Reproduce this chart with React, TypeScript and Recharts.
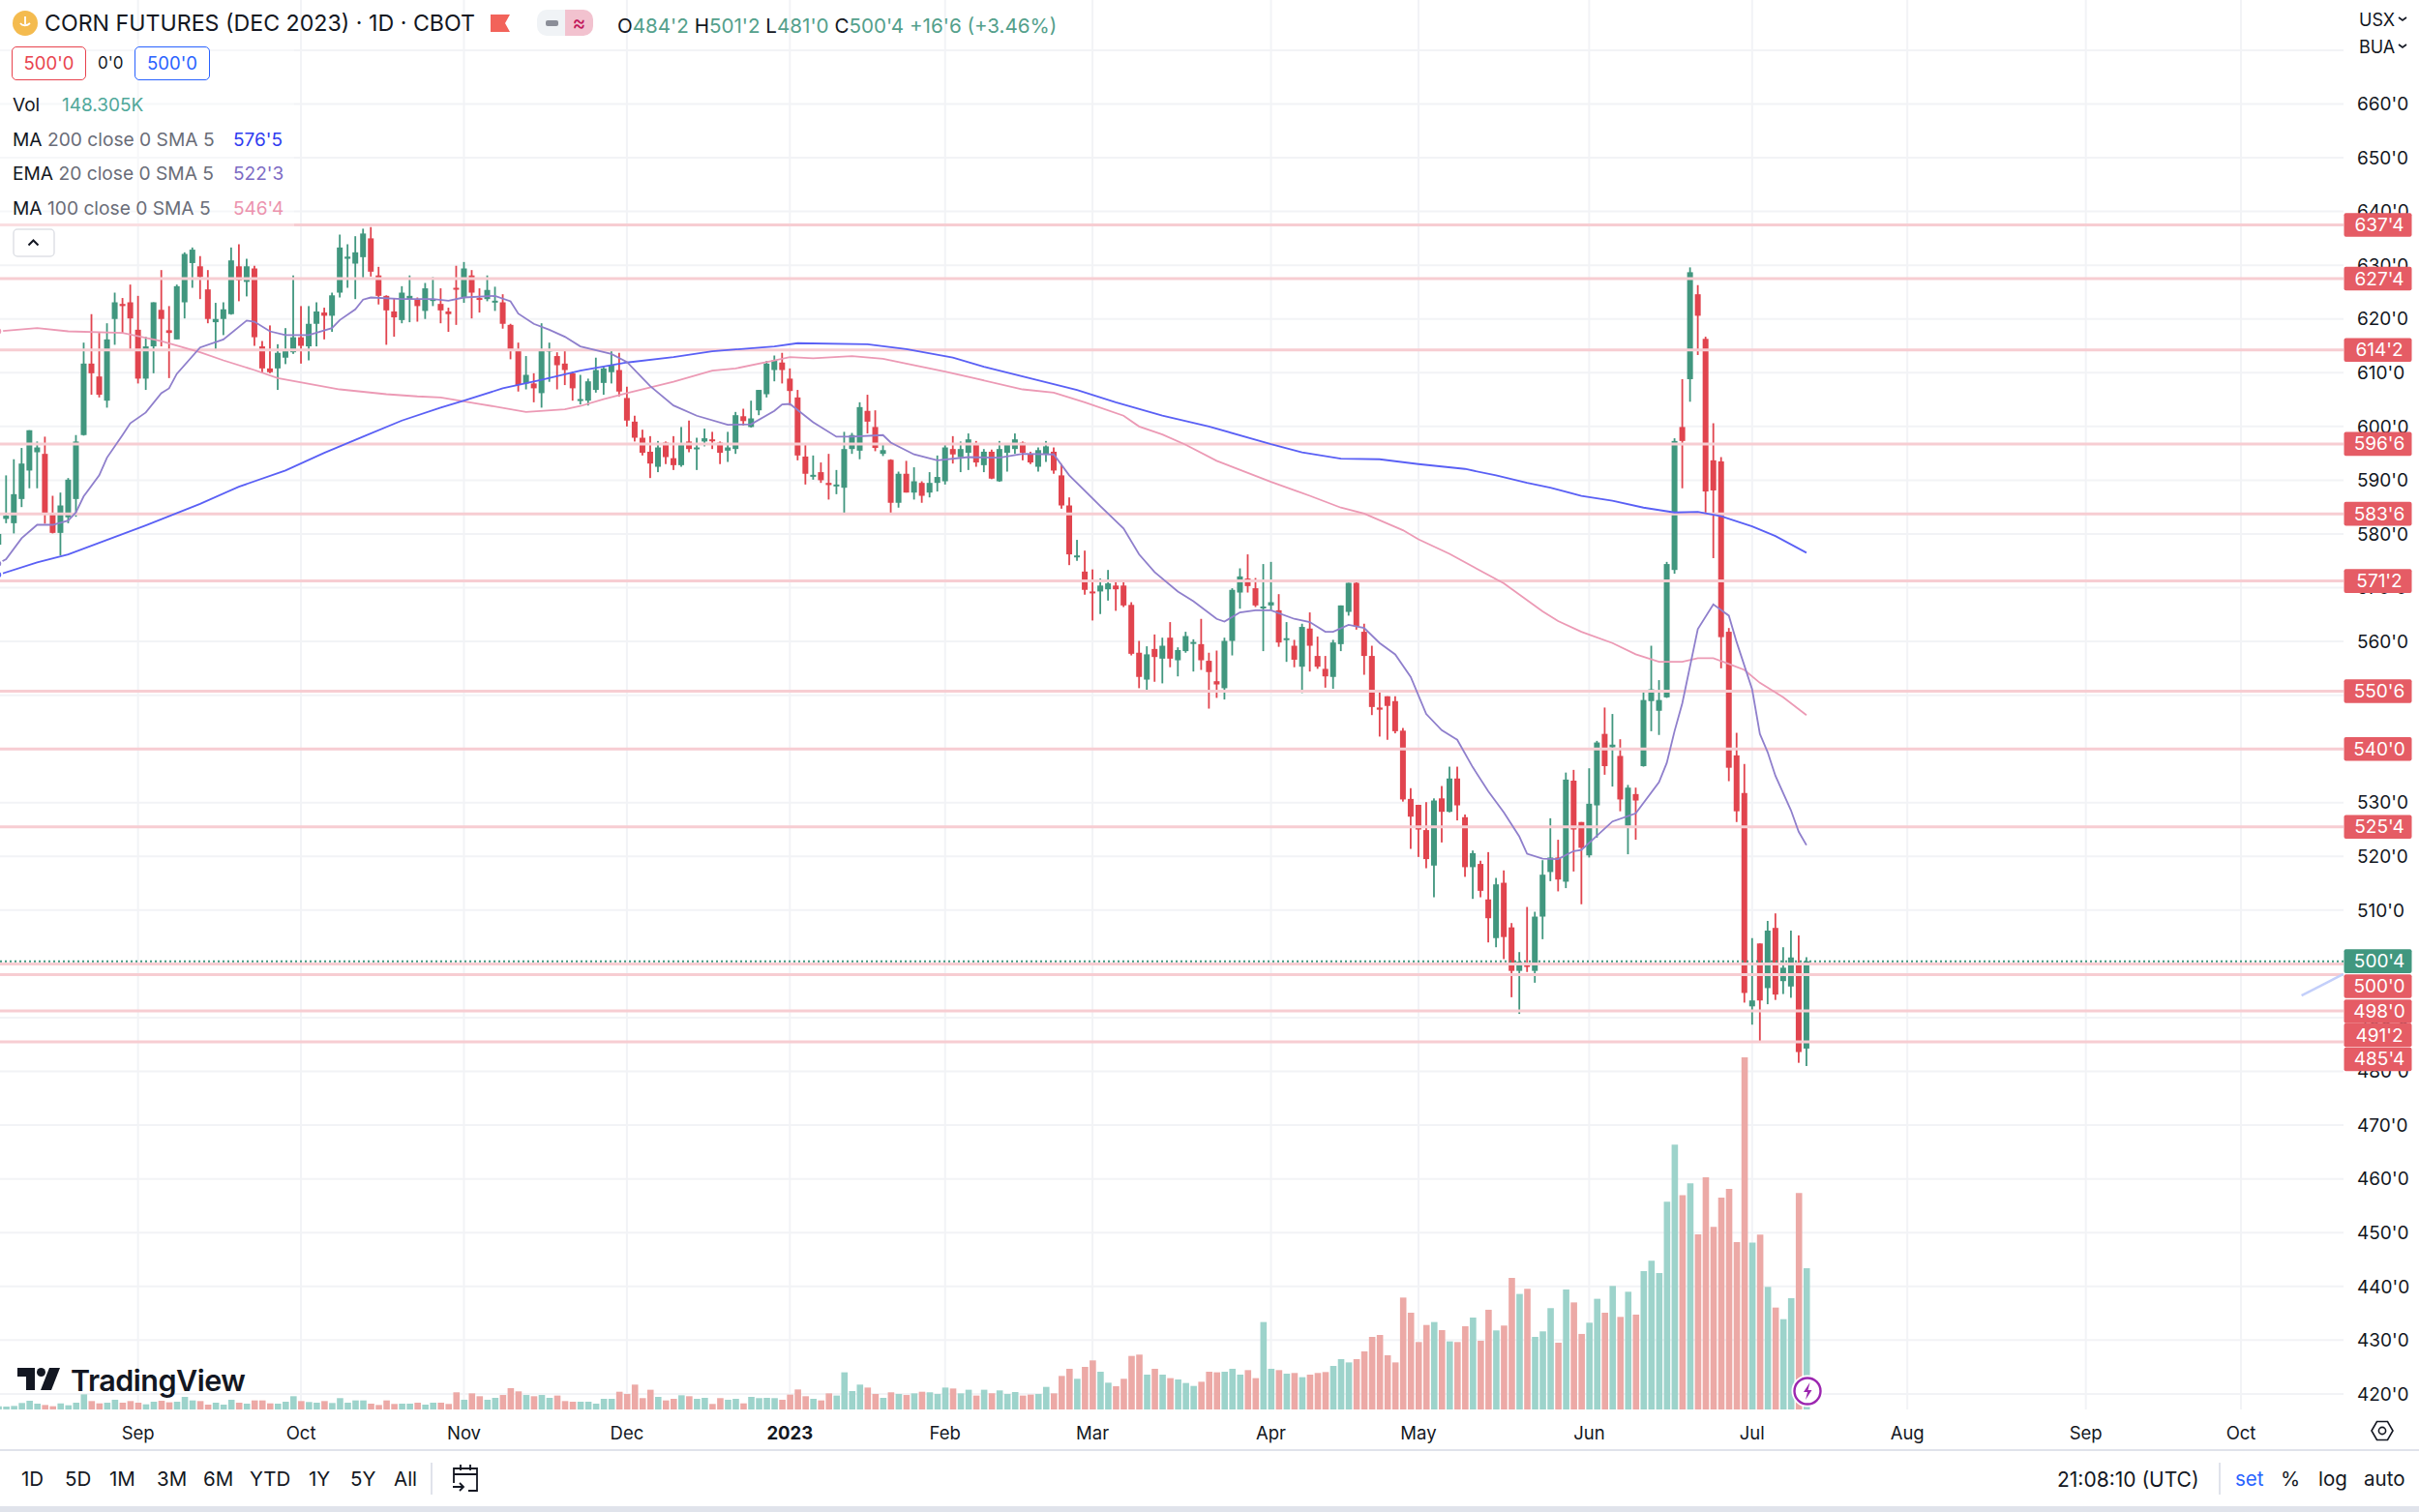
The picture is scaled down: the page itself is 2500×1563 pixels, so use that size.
import {
  ComposedChart,
  Bar,
  Line,
  Cell,
  XAxis,
  YAxis,
  CartesianGrid,
  ReferenceLine,
} from "recharts";

// daily candles, the first one sits half off the left edge
const firstIndex = -1;

const opens = [
  578.0,
  582.8, 582.0, 586.5, 591.8, 595.2, 594.9, 583.7, 580.2, 583.1, 586.5,
  598.4, 611.7, 609.3, 604.8, 620.0, 622.8, 623.1, 618.0, 608.9, 614.9,
  621.7, 617.9, 616.2, 623.1, 630.4, 629.8, 625.5, 619.4, 620.0, 620.9,
  629.8, 626.9, 629.4, 614.9, 610.8, 610.8, 612.8, 613.8, 616.6, 614.9,
  619.1, 621.2, 620.6, 624.9, 631.2, 630.3, 631.5, 635.0, 628.1, 624.3,
  621.4, 619.8, 623.6, 623.7, 621.5, 623.4, 622.8, 621.4, 625.8, 624.0,
  628.1, 623.9, 623.7, 623.1, 623.1, 618.9, 614.1, 608.0, 608.0, 606.2,
  614.1, 613.1, 611.7, 609.9, 604.9, 604.8, 606.8, 608.1, 610.1, 610.5,
  605.3, 600.9, 597.9, 595.3, 592.5, 597.0, 594.1, 592.8, 597.2, 595.8,
  597.2, 597.6, 597.0, 595.5, 595.8, 601.9, 599.9, 603.0, 606.0, 610.5,
  611.9, 608.9, 605.4, 594.4, 590.7, 591.5, 589.5, 588.9, 588.6, 595.8,
  595.5, 602.9, 599.9, 594.9, 593.8, 585.8, 591.2, 587.7, 589.5, 587.7,
  589.5, 589.8, 595.8, 594.3, 595.1, 596.7, 592.8, 595.3, 589.8, 595.1,
  595.8, 597.0, 594.9, 592.5, 594.9, 595.3, 590.9, 585.3, 575.7, 573.0,
  569.3, 569.3, 569.7, 570.4, 570.4, 566.8, 557.9, 552.9, 558.6, 556.8,
  560.7, 556.5, 558.2, 559.7, 559.5, 556.4, 552.6, 551.3, 560.1, 569.1,
  571.7, 569.9, 566.3, 566.7, 565.8, 560.4, 559.2, 555.3, 562.4, 557.3,
  554.9, 553.4, 559.5, 565.5, 570.9, 561.8, 557.3, 547.7, 549.8, 548.9,
  543.4, 530.7, 529.6, 524.9, 518.3, 530.8, 528.3, 534.5, 527.3, 518.0,
  518.6, 512.0, 504.8, 515.1, 506.8, 498.7, 499.8, 498.7, 508.8, 517.1,
  519.8, 515.3, 534.1, 526.4, 520.2, 529.5, 542.8, 540.3, 538.7, 525.7,
  531.6, 536.8, 548.9, 547.1, 549.6, 573.3, 599.9, 608.8, 624.6, 616.3,
  593.7, 593.5, 561.8, 538.8, 531.8, 492.1, 503.8, 495.5, 506.7, 496.8,
  495.8, 500.3, 484.25,
];

const highs = [
  580.6,
  590.9, 593.9, 596.0, 599.3, 597.2, 598.1, 587.1, 587.7, 590.4, 598.4,
  615.6, 620.9, 617.4, 619.2, 624.9, 623.9, 626.4, 624.3, 616.7, 623.1,
  629.1, 622.4, 626.4, 632.4, 633.3, 631.7, 629.1, 623.0, 623.1, 633.3,
  633.9, 631.2, 629.9, 615.9, 618.8, 615.3, 618.3, 628.1, 622.4, 622.4,
  623.1, 622.1, 624.9, 635.7, 633.9, 635.4, 636.8, 637.1, 629.7, 624.4,
  623.9, 626.1, 628.1, 624.0, 626.7, 627.8, 625.7, 622.1, 629.9, 630.6,
  629.1, 625.7, 628.1, 626.0, 624.6, 619.1, 615.6, 613.1, 609.9, 619.2,
  615.6, 613.8, 614.1, 610.2, 609.6, 608.9, 612.8, 611.1, 614.1, 613.7,
  607.4, 602.0, 599.4, 598.2, 597.3, 597.2, 598.2, 599.9, 601.1, 597.9,
  599.6, 599.0, 597.2, 599.0, 602.7, 603.3, 604.8, 606.8, 612.2, 613.2,
  613.7, 610.8, 606.8, 596.9, 594.6, 593.3, 594.9, 591.9, 599.0, 598.8,
  604.5, 605.9, 603.0, 596.9, 593.9, 591.6, 593.6, 592.4, 589.8, 591.5,
  594.6, 596.7, 598.2, 597.2, 598.7, 597.3, 595.8, 595.7, 597.3, 596.7,
  598.7, 597.2, 595.3, 596.1, 597.3, 596.1, 593.0, 586.8, 578.9, 576.9,
  573.4, 571.7, 573.3, 571.1, 571.1, 567.3, 560.1, 559.1, 561.3, 560.7,
  563.6, 558.9, 561.8, 560.4, 564.2, 557.9, 558.3, 560.7, 569.9, 573.6,
  576.2, 571.8, 574.4, 574.8, 568.8, 563.6, 560.3, 563.3, 565.4, 560.9,
  557.3, 560.3, 566.7, 570.9, 571.1, 563.3, 559.2, 550.8, 549.8, 549.8,
  543.9, 532.7, 529.6, 530.1, 530.8, 533.1, 536.7, 536.7, 527.8, 521.1,
  519.2, 520.8, 516.0, 517.4, 507.6, 502.2, 510.6, 509.7, 519.3, 527.1,
  523.1, 535.6, 536.1, 526.4, 536.4, 541.5, 547.7, 546.5, 541.8, 533.3,
  532.8, 550.6, 559.2, 552.8, 574.8, 597.8, 608.8, 629.6, 626.3, 616.7,
  600.6, 594.3, 562.5, 543.0, 537.2, 504.8, 503.8, 508.0, 509.4, 503.1,
  506.2, 505.3, 501.25,
];

const lows = [
  577.3,
  582.0, 580.1, 585.0, 588.5, 588.5, 581.9, 580.1, 576.0, 582.0, 583.2,
  598.3, 605.9, 605.4, 603.5, 615.2, 617.4, 614.4, 608.0, 606.8, 609.9,
  614.9, 609.0, 616.2, 620.1, 625.8, 623.7, 619.2, 614.0, 617.0, 620.8,
  623.3, 624.2, 615.0, 609.9, 609.9, 606.8, 611.6, 613.5, 611.7, 612.3,
  614.9, 616.2, 617.6, 624.0, 625.8, 623.7, 627.6, 627.9, 622.7, 615.2,
  616.7, 619.2, 619.4, 619.5, 620.0, 622.4, 619.2, 617.6, 618.9, 623.0,
  620.1, 621.2, 623.3, 621.5, 618.2, 612.5, 606.5, 606.9, 604.5, 603.5,
  608.3, 606.9, 607.7, 604.8, 604.1, 603.9, 606.3, 605.9, 608.0, 605.6,
  600.0, 597.2, 594.6, 590.4, 591.5, 593.0, 591.9, 592.5, 595.2, 591.9,
  596.3, 595.8, 593.0, 593.4, 594.9, 600.2, 599.8, 602.1, 605.4, 608.4,
  608.0, 603.9, 593.7, 589.2, 590.1, 589.5, 586.4, 587.4, 583.7, 594.9,
  593.9, 598.7, 595.4, 594.5, 583.7, 584.9, 587.7, 586.4, 585.8, 586.8,
  587.9, 589.2, 593.1, 591.5, 591.9, 592.5, 591.5, 590.2, 589.7, 591.6,
  594.9, 593.7, 593.0, 591.6, 593.4, 591.2, 584.7, 574.2, 575.0, 568.7,
  563.9, 565.1, 567.6, 565.7, 566.4, 557.4, 551.3, 550.7, 552.5, 552.2,
  555.2, 553.5, 557.9, 554.4, 554.7, 547.5, 549.5, 549.2, 557.4, 566.1,
  569.1, 566.4, 558.2, 565.8, 559.0, 556.2, 555.2, 550.4, 554.4, 554.9,
  551.4, 551.2, 558.2, 564.8, 562.2, 553.8, 546.3, 542.3, 541.7, 542.9,
  530.2, 521.4, 519.9, 517.8, 512.4, 522.6, 528.2, 526.7, 516.2, 512.1,
  512.4, 504.0, 503.1, 500.9, 493.8, 490.7, 498.5, 496.5, 504.6, 515.4,
  513.5, 514.1, 517.2, 511.1, 519.8, 523.5, 535.2, 533.0, 528.4, 520.4,
  523.1, 536.7, 543.3, 542.6, 549.5, 572.6, 588.5, 604.6, 613.3, 583.6,
  575.5, 555.0, 534.0, 526.4, 492.8, 488.7, 485.4, 492.5, 493.3, 494.4,
  493.7, 481.6, 481.0,
];

const closes = [
  580.0,
  583.4, 587.4, 593.1, 599.3, 596.1, 583.7, 580.2, 585.3, 590.1, 597.2,
  611.7, 609.9, 605.9, 616.2, 623.1, 622.4, 620.1, 608.9, 614.9, 623.1,
  620.0, 617.4, 626.1, 632.1, 632.9, 627.8, 620.0, 620.0, 621.8, 630.9,
  627.2, 629.8, 616.6, 610.8, 610.1, 613.7, 614.0, 616.6, 615.0, 619.1,
  621.4, 620.6, 624.4, 633.3, 631.6, 632.4, 635.9, 628.8, 624.3, 621.6,
  620.3, 624.9, 624.3, 622.4, 625.7, 623.7, 621.6, 620.9, 625.6, 629.4,
  624.9, 623.7, 625.4, 623.4, 619.1, 614.1, 607.7, 609.6, 607.1, 614.1,
  614.3, 611.4, 610.5, 607.1, 605.1, 608.4, 610.5, 610.8, 611.4, 606.5,
  601.1, 597.9, 595.1, 593.1, 596.1, 594.3, 592.8, 596.9, 595.8, 596.1,
  597.8, 597.3, 595.1, 596.1, 602.1, 601.0, 601.5, 606.8, 611.7, 612.3,
  610.5, 606.6, 594.6, 591.2, 591.0, 590.0, 589.1, 589.2, 595.8, 598.4,
  603.6, 600.9, 596.0, 595.6, 585.8, 591.2, 587.7, 589.8, 587.1, 589.5,
  590.6, 596.1, 594.8, 595.8, 597.6, 593.3, 595.3, 590.3, 595.8, 596.7,
  597.6, 595.1, 593.3, 595.6, 596.3, 591.8, 585.3, 576.2, 576.0, 569.6,
  569.1, 570.4, 570.8, 569.7, 566.7, 557.7, 553.4, 557.6, 557.1, 559.2,
  556.8, 558.4, 561.0, 559.9, 556.5, 554.3, 552.0, 560.1, 569.6, 572.1,
  570.3, 566.7, 566.5, 567.3, 559.8, 560.6, 556.6, 562.7, 559.2, 555.3,
  553.5, 559.8, 566.7, 570.9, 562.8, 557.3, 547.8, 547.3, 548.0, 543.3,
  530.6, 527.4, 525.0, 519.5, 530.4, 528.3, 534.5, 529.5, 518.0, 520.6,
  513.6, 508.5, 514.8, 505.0, 498.7, 500.4, 499.6, 508.8, 516.6, 519.8,
  515.7, 534.3, 525.0, 521.6, 529.8, 541.2, 536.8, 540.8, 530.6, 532.8,
  530.4, 549.1, 551.1, 549.1, 574.4, 597.3, 597.3, 628.7, 620.6, 587.9,
  588.1, 560.8, 536.5, 528.4, 494.6, 493.2, 493.2, 506.2, 494.3, 499.3,
  501.2, 483.6, 500.5,
];

// thousands of contracts
const volumes = [
  3.4,
  3.0, 3.7, 6.8, 9.1, 6.1, 4.7, 3.4, 6.4, 4.4, 7.1,
  15.9, 8.8, 6.4, 7.1, 10.2, 7.1, 8.8, 7.1, 5.4, 8.1,
  9.1, 7.5, 8.1, 13.2, 9.5, 8.8, 5.1, 7.1, 5.1, 10.2,
  7.1, 6.1, 9.5, 9.5, 6.4, 6.1, 8.1, 13.9, 8.8, 7.8,
  7.1, 8.8, 6.8, 11.9, 7.1, 9.5, 9.5, 6.1, 4.7, 9.5,
  5.8, 6.1, 6.1, 7.1, 5.1, 7.1, 7.1, 5.8, 18.0, 10.2,
  16.9, 13.9, 10.2, 12.2, 15.2, 22.4, 19.0, 15.2, 13.9, 15.2,
  12.2, 14.6, 8.8, 8.1, 8.1, 8.1, 6.1, 11.2, 11.2, 18.6,
  16.3, 26.1, 11.9, 20.7, 13.2, 9.5, 11.2, 14.9, 13.9, 11.2,
  12.2, 5.8, 11.9, 10.2, 11.2, 6.4, 13.2, 11.9, 12.2, 11.9,
  10.2, 15.6, 21.0, 13.9, 11.2, 9.5, 16.9, 14.6, 39.0, 19.3,
  26.1, 23.0, 16.3, 12.2, 18.0, 16.3, 15.2, 16.9, 18.6, 18.0,
  16.3, 23.0, 22.0, 16.9, 20.7, 14.6, 20.7, 16.9, 20.0, 16.3,
  18.3, 14.6, 15.6, 16.3, 23.7, 16.9, 35.2, 42.7, 32.2, 44.7,
  51.5, 39.6, 28.1, 24.4, 32.2, 56.2, 57.6, 36.6, 42.7, 36.6,
  32.9, 31.5, 27.8, 24.7, 29.1, 39.6, 39.0, 39.6, 42.7, 36.6,
  41.3, 32.9, 91.8, 42.7, 41.3, 37.6, 38.3, 33.9, 36.6, 38.3,
  39.3, 45.7, 52.8, 49.4, 52.8, 61.0, 76.2, 78.2, 56.9, 49.4,
  117.5, 101.6, 70.8, 88.7, 91.8, 83.3, 71.5, 70.8, 87.4, 96.5,
  72.1, 104.7, 83.0, 88.1, 138.2, 121.3, 126.7, 76.2, 82.0, 106.4,
  70.1, 126.0, 112.4, 79.3, 91.1, 116.2, 101.6, 129.7, 97.2, 123.6,
  99.6, 145.3, 156.1, 143.3, 218.1, 278.1, 224.9, 237.4, 183.9, 243.9,
  191.7, 222.5, 231.7, 175.8, 369.8, 175.1, 183.6, 128.7, 107.0, 94.8,
  116.9, 227.3, 148.3,
];

// [bar index, value]
const ma200: [number, number][] = [
  [-1, 572.4], [4, 574.7], [8, 576.2], [13, 578.9], [18, 581.6], [25, 585.6], [30, 588.8], [36, 591.8],
  [41, 595.1], [46, 598.1], [51, 601.1], [56, 603.5], [59, 604.8], [64, 607.1], [69, 608.7], [74, 610.4],
  [80, 611.9], [86, 612.9], [91, 614.0], [99, 614.9], [102, 615.5], [111, 615.3], [116, 614.4], [122, 612.8],
  [126, 611.1], [133, 608.6], [138, 606.8], [143, 604.5], [149, 602.0], [155, 600.0], [163, 596.7], [167, 595.2],
  [172, 594.0], [177, 593.9], [182, 593.0], [188, 592.1], [192, 590.9], [196, 589.5], [199, 588.6], [203, 587.1],
  [207, 586.2], [211, 584.9], [215, 584.0], [218, 584.1], [221, 583.3], [225, 581.4], [228, 579.6], [232, 576.5],
];

const ma100: [number, number][] = [
  [-1, 617.7], [4, 618.3], [8, 617.7], [15, 617.4], [20, 615.9], [25, 613.8], [28, 612.3], [32, 610.5],
  [35, 609.0], [43, 606.9], [49, 606.0], [53, 605.6], [56, 605.4], [61, 604.2], [67, 602.7], [72, 603.2],
  [74, 603.8], [77, 605.1], [80, 606.2], [86, 608.3], [91, 610.4], [94, 610.8], [99, 612.3], [101, 612.9],
  [104, 612.7], [109, 613.1], [113, 612.6], [116, 611.7], [121, 610.2], [125, 608.9], [131, 606.9], [135, 606.3],
  [139, 604.5], [144, 602.0], [146, 600.0], [149, 598.5], [152, 596.6], [156, 593.6], [163, 589.7], [168, 587.1],
  [172, 584.9], [175, 583.8], [180, 580.7], [182, 579.0], [186, 576.3], [193, 570.8], [198, 565.6], [200, 563.8],
  [203, 561.8], [207, 559.7], [210, 557.6], [213, 556.2], [216, 556.2], [218, 556.9], [220, 556.9], [224, 554.7],
  [226, 552.3], [229, 549.6], [232, 546.3],
];

const ema20: [number, number][] = [
  [-1, 574.5], [0, 575.3], [2, 579.2], [4, 581.7], [6, 581.7], [8, 582.5], [9, 584.0], [10, 587.0],
  [12, 590.9], [13, 594.2], [15, 598.4], [16, 600.6], [18, 602.6], [20, 606.2], [21, 607.1], [22, 609.8],
  [25, 614.7], [28, 616.2], [31, 619.7], [32, 619.5], [34, 617.7], [36, 617.0], [39, 617.0], [42, 618.3],
  [43, 619.8], [45, 621.8], [46, 623.6], [47, 624.0], [51, 623.7], [55, 623.7], [57, 623.4], [59, 624.0],
  [63, 624.3], [65, 623.3], [66, 621.0], [68, 619.1], [70, 618.0], [72, 616.7], [74, 614.9], [78, 613.5],
  [80, 612.0], [83, 607.5], [86, 603.9], [89, 602.0], [93, 600.3], [96, 600.4], [99, 602.9], [100, 604.1],
  [101, 604.2], [104, 600.8], [107, 598.1], [109, 598.1], [113, 598.4], [114, 597.0], [117, 594.8], [120, 593.7],
  [124, 594.3], [128, 594.2], [131, 594.9], [135, 594.8], [137, 590.9], [141, 585.2], [144, 581.0], [146, 576.2],
  [148, 572.9], [151, 569.3], [153, 567.5], [156, 564.2], [157, 563.7], [159, 565.4], [161, 565.8], [163, 565.8],
  [166, 564.2], [168, 563.6], [170, 561.8], [171, 561.8], [173, 563.1], [175, 562.5], [177, 559.7], [179, 557.6],
  [181, 553.4], [183, 546.5], [185, 543.5], [187, 541.7], [189, 536.6], [191, 532.1], [193, 528.2], [195, 523.7],
  [196, 520.5], [198, 519.6], [200, 519.5], [202, 521.0], [203, 521.2], [207, 526.5], [210, 528.0], [213, 533.8],
  [214, 537.4], [215, 543.3], [216, 548.5], [218, 562.3], [220, 566.9], [222, 564.8], [223, 559.9], [225, 551.1],
  [226, 542.8], [227, 539.4], [228, 535.0], [230, 528.6], [231, 524.6], [232, 522.1],
];

// drawn levels, in cents and eighths
const levels = [637.5, 627.5, 614.25, 596.75, 583.75, 571.25, 550.75, 540, 525.5, 500, 498, 491.25, 485.5];
const lastPrice = 500.5;

const priceTicks = [420, 430, 440, 450, 460, 470, 480, 490, 500, 510, 520, 530, 540, 550, 560, 570, 580, 590, 600, 610, 620, 630, 640, 650, 660];
const priceGrid = [...priceTicks, 670];
const monthTicks = [17, 38, 59, 80, 101, 121, 140, 163, 182, 204, 225, 245, 268, 288];
const monthLabels = ["Sep", "Oct", "Nov", "Dec", "2023", "Feb", "Mar", "Apr", "May", "Jun", "Jul", "Aug", "Sep", "Oct"];

const rangeButtons = ["1D", "5D", "1M", "3M", "6M", "YTD", "1Y", "5Y", "All"];
const rangeLefts = [22, 67, 113, 162, 210, 258, 319, 362, 407];

const UP = "#41977f";
const DOWN = "#e1444e";
const UP_VOL = "#9dd3cb";
const DOWN_VOL = "#eca9a6";
const TEXT = "#131722";
const LEVEL = "#f7cdd2";
const TAG = "#e55c65";

// stacked tags near the last price are pushed down off their level
const tagShift: Record<number, number> = { 500: 23, 498: 38, 491.25: 25, 485.5: 18 };

const lookup = (pairs: [number, number][], idx: number) => {
  const hit = pairs.find((p) => p[0] === idx);
  return hit ? hit[1] : undefined;
};

const rows = opens.map((open, i) => {
  const idx = firstIndex + i;
  return {
    idx,
    open,
    high: highs[i],
    low: lows[i],
    close: closes[i],
    volume: volumes[i],
    ma200: lookup(ma200, idx),
    ma100: lookup(ma100, idx),
    ema20: lookup(ema20, idx),
  };
});

const fmt = (v: number) => `${Math.floor(v)}'${Math.round((v - Math.floor(v)) * 8)}`;

const Candle = (props: any) => {
  const { x, y, width, height, payload } = props;
  const top = Math.min(y, y + height);
  const k = Math.abs(height) / (payload.high - payload.low);
  const color = payload.close >= payload.open ? UP : DOWN;
  const bodyTop = top + (payload.high - Math.max(payload.open, payload.close)) * k;
  const bodyH = Math.max(Math.abs(payload.open - payload.close) * k, 2);
  const cx = x + width / 2;
  return (
    <g>
      <rect x={cx - 0.9} y={top} width={1.8} height={Math.abs(height)} fill={color} />
      <rect x={x} y={bodyTop} width={width} height={bodyH} fill={color} />
    </g>
  );
};

const MonthTick = ({ x, y, payload }: any) => {
  const label = monthLabels[monthTicks.indexOf(payload.value)];
  return (
    <text
      x={x}
      y={y - 4}
      textAnchor="middle"
      dominantBaseline="central"
      fontSize={18.5}
      fontWeight={label === "2023" ? 700 : 400}
      fill={TEXT}
    >
      {label}
    </text>
  );
};

const PriceTag = ({ y, text, color }: { y: number; text: string; color: string }) => (
  <g>
    <rect x={2422.5} y={y - 12.3} width={70} height={24.6} rx={2} fill={color} />
    <text x={2459} y={y} textAnchor="middle" dominantBaseline="central" fontSize={19} fill="#fff">
      {text}
    </text>
  </g>
);

const LevelTag = (value: number) => (props: any) => (
  <PriceTag y={props.y1 + (tagShift[value] || 0)} text={fmt(value)} color={TAG} />
);

const LastTag = (props: any) => <PriceTag y={props.y1} text={fmt(lastPrice)} color={UP} />;

const abs = (left: number, top: number, extra: any = {}) => ({
  position: "absolute" as const,
  left,
  top,
  whiteSpace: "nowrap" as const,
  lineHeight: 1,
  ...extra,
});

const IndicatorRow = ({ top, name, args, value, color }: any) => (
  <>
    <div style={abs(13, top - 9, { fontSize: 19.2, color: TEXT })}>
      {name} <span style={{ color: "#6a6d78" }}>{args}</span>
    </div>
    <div style={abs(241, top - 9, { fontSize: 19, color })}>{value}</div>
  </>
);

const Header = () => (
  <>
    <div style={abs(0, 40, { width: 304, height: 194, background: "rgba(255,255,255,0.35)" })} />
    <svg style={abs(13, 11)} width={26} height={26}>
      <circle cx={13} cy={13} r={13} fill="#f4bb4f" />
      <path d="M8 13c2 3 7 3 10 0M13 6v8" stroke="#fff" strokeWidth={1.8} fill="none" />
    </svg>
    <div style={abs(46, 13, { fontSize: 23.2, color: TEXT })}>CORN FUTURES (DEC 2023) · 1D · CBOT</div>
    <svg style={abs(507, 15)} width={20} height={18}>
      <path d="M0 0h20l-5 9 5 9H0z" fill="#f2635a" />
    </svg>
    <div style={abs(555, 10, { width: 29, height: 27, background: "#f0f3f6", borderRadius: "10px 0 0 10px" })} />
    <div style={abs(564, 21, { width: 13, height: 6, background: "#8b8e98", borderRadius: 2 })} />
    <div style={abs(584, 10, { width: 29, height: 27, background: "#f2c2cf", borderRadius: "0 10px 10px 0", color: "#c2185b", fontSize: 21, textAlign: "center", lineHeight: "27px" })}>≈</div>
    <div style={abs(638, 17, { fontSize: 20.6, color: "#53a08b" })}>
      <span style={{ color: TEXT }}>O</span>484'2 <span style={{ color: TEXT }}>H</span>501'2{" "}
      <span style={{ color: TEXT }}>L</span>481'0 <span style={{ color: TEXT }}>C</span>500'4 +16'6 (+3.46%)
    </div>
    <div style={abs(12, 48, { boxSizing: "border-box", width: 77, height: 35, border: "1.5px solid #e8434e", borderRadius: 5, color: "#e8434e", fontSize: 18.5, textAlign: "center", lineHeight: "32px", background: "#fff" })}>500'0</div>
    <div style={abs(101, 57, { fontSize: 17, color: TEXT })}>0'0</div>
    <div style={abs(139, 48, { boxSizing: "border-box", width: 78, height: 35, border: "1.5px solid #2962ff", borderRadius: 5, color: "#2962ff", fontSize: 18.5, textAlign: "center", lineHeight: "32px", background: "#fff" })}>500'0</div>
    <div style={abs(13, 99, { fontSize: 19, color: TEXT })}>Vol</div>
    <div style={abs(64, 99, { fontSize: 19, color: "#4fa89a" })}>148.305K</div>
    <IndicatorRow top={144} name="MA" args="200 close 0 SMA 5" value="576'5" color="#2f3cf0" />
    <IndicatorRow top={179} name="EMA" args="20 close 0 SMA 5" value="522'3" color="#7d6bc4" />
    <IndicatorRow top={215} name="MA" args="100 close 0 SMA 5" value="546'4" color="#ec93ae" />
    <svg style={abs(13, 236)} width={44} height={30}>
      <rect x={1} y={1} width={42} height={28} rx={4} fill="#fff" stroke="#dfe1e6" strokeWidth={1.5} />
      <path d="M16.5 17.5l5-5 5 5" stroke={TEXT} strokeWidth={2} fill="none" />
    </svg>
    {["USX", "BUA"].map((unit, i) => (
      <div key={unit} style={abs(2438, 12 + i * 28, { fontSize: 18, color: TEXT })}>
        {unit}
        <svg width={10} height={6} style={{ marginLeft: 3, verticalAlign: 4 }}>
          <path d="M1 1l4 3 4-3" stroke={TEXT} strokeWidth={1.6} fill="none" />
        </svg>
      </div>
    ))}
  </>
);

const Footer = () => (
  <>
    <div style={abs(0, 1498, { width: 2500, height: 2, background: "#e0e3eb" })} />
    <div style={abs(0, 1557, { width: 2500, height: 6, background: "#e0e3eb" })} />
    {rangeButtons.map((b, i) => (
      <div key={b} style={abs(rangeLefts[i], 1519, { fontSize: 20.5, color: TEXT })}>
        {b}
      </div>
    ))}
    <div style={abs(445, 1512, { width: 1.5, height: 33, background: "#e0e3eb" })} />
    <svg style={abs(466, 1513)} width={30} height={30} fill="none" stroke={TEXT} strokeWidth={1.8}>
      <path d="M3 20V5h24v23h-9M3 11h24M10 1v6M20 1v6M2 24h11M9 20l4 4-4 4" />
    </svg>
    <div style={abs(2126, 1519, { fontSize: 21, color: TEXT })}>21:08:10 (UTC)</div>
    <div style={abs(2293, 1512, { width: 1.5, height: 33, background: "#e0e3eb" })} />
    <div style={abs(2310, 1519, { fontSize: 20.5, color: "#2962ff" })}>set</div>
    <div style={abs(2357, 1519, { fontSize: 20.5, color: TEXT })}>%</div>
    <div style={abs(2396, 1519, { fontSize: 20.5, color: TEXT })}>log</div>
    <div style={abs(2443, 1519, { fontSize: 20.5, color: TEXT })}>auto</div>
    <svg style={abs(2450, 1468)} width={24} height={22} fill="none" stroke={TEXT} strokeWidth={1.6}>
      <path d="M1 11l5.5-9.5h11L23 11l-5.5 9.5h-11z" />
      <circle cx={12} cy={11} r={3.6} />
    </svg>
    <svg style={abs(18, 1414)} width={44} height={23} fill={TEXT}>
      <path d="M0 0h18v23H9V9H0z" />
      <circle cx={24.5} cy={4.5} r={4.5} />
      <path d="M44 0l-9 23H24l9-23z" />
    </svg>
    <div style={abs(73, 1412, { fontSize: 30.5, fontWeight: 600, letterSpacing: -0.5, color: TEXT })}>TradingView</div>
    <svg style={abs(1851, 1421)} width={34} height={34}>
      <circle cx={17} cy={17} r={15} fill="#fff" stroke="#fff" strokeWidth={3} />
      <circle cx={17} cy={17} r={13.5} fill="#fff" stroke="#9c27b0" strokeWidth={2.4} />
      <path d="M19.5 8l-6.5 10h4l-2 8 6.5-10h-4z" fill="#9c27b0" />
    </svg>
  </>
);

export default function App() {
  return (
    <div
      style={{
        position: "absolute",
        left: 0,
        top: 0,
        width: 2500,
        height: 1563,
        background: "#fff",
        overflow: "hidden",
        fontFamily: "Inter, sans-serif",
      }}
    >
      <ComposedChart
        width={2500}
        height={1563}
        data={rows}
        margin={{ top: 0, right: 0, left: 0, bottom: 64 }}
        style={{ fontFamily: "Inter, sans-serif" }}
      >
        <CartesianGrid
          xAxisId="price"
          yAxisId="price"
          stroke="#f2f3f6"
          strokeWidth={2}
          horizontalValues={priceGrid}
          verticalValues={monthTicks}
        />
        <XAxis
          xAxisId="price"
          dataKey="idx"
          type="number"
          domain={[-0.786, 301.21]}
          allowDataOverflow
          ticks={monthTicks}
          interval={0}
          height={42}
          axisLine={false}
          tickLine={false}
          tick={<MonthTick />}
          tickMargin={22}
        />
        <XAxis xAxisId="vol" dataKey="idx" type="number" domain={[-0.786, 301.21]} allowDataOverflow hide />
        <YAxis
          yAxisId="price"
          orientation="right"
          width={78}
          domain={[417.1, 679.35]}
          allowDataOverflow
          ticks={priceTicks}
          interval={0}
          tickFormatter={fmt}
          axisLine={false}
          tickLine={false}
          tickMargin={8}
          tick={{ fontSize: 19, fill: TEXT }}
        />
        <YAxis yAxisId="vol" domain={[0, 1480]} allowDataOverflow hide />

        <Bar xAxisId="vol" yAxisId="vol" dataKey="volume" barSize={6.6} isAnimationActive={false}>
          {rows.map((r) => (
            <Cell key={r.idx} fill={r.close >= r.open ? UP_VOL : DOWN_VOL} />
          ))}
        </Bar>

        {levels.map((v) => (
          <ReferenceLine key={v} xAxisId="price" yAxisId="price" y={v} stroke={LEVEL} strokeWidth={3} />
        ))}
        <ReferenceLine xAxisId="price" yAxisId="price" y={lastPrice} stroke={UP} strokeWidth={2} strokeDasharray="2 3" />
        <ReferenceLine
          xAxisId="price"
          yAxisId="price"
          segment={[
            { x: 295.8, y: 494.1 },
            { x: 301.2, y: 498.1 },
          ]}
          stroke="#c3cffa"
          strokeWidth={2.5}
        />

        <Bar
          xAxisId="price"
          yAxisId="price"
          dataKey={(d: any) => [d.low, d.high]}
          barSize={6}
          shape={<Candle />}
          isAnimationActive={false}
        />
        <Line xAxisId="price" yAxisId="price" dataKey="ma100" stroke="#ec9ab5" strokeWidth={1.8} dot={false} connectNulls isAnimationActive={false} />
        <Line xAxisId="price" yAxisId="price" dataKey="ma200" stroke="#5a60f5" strokeWidth={1.8} dot={false} connectNulls isAnimationActive={false} />
        <Line xAxisId="price" yAxisId="price" dataKey="ema20" stroke="#8f7fcc" strokeWidth={1.8} dot={false} connectNulls isAnimationActive={false} />

        {/* tags go above the axis labels */}
        {levels.map((v) => (
          <ReferenceLine key={`tag-${v}`} xAxisId="price" yAxisId="price" y={v} shape={LevelTag(v)} zIndex={2000} />
        ))}
        <ReferenceLine xAxisId="price" yAxisId="price" y={lastPrice} shape={LastTag} zIndex={2000} />
      </ComposedChart>
      <Header />
      <Footer />
    </div>
  );
}
